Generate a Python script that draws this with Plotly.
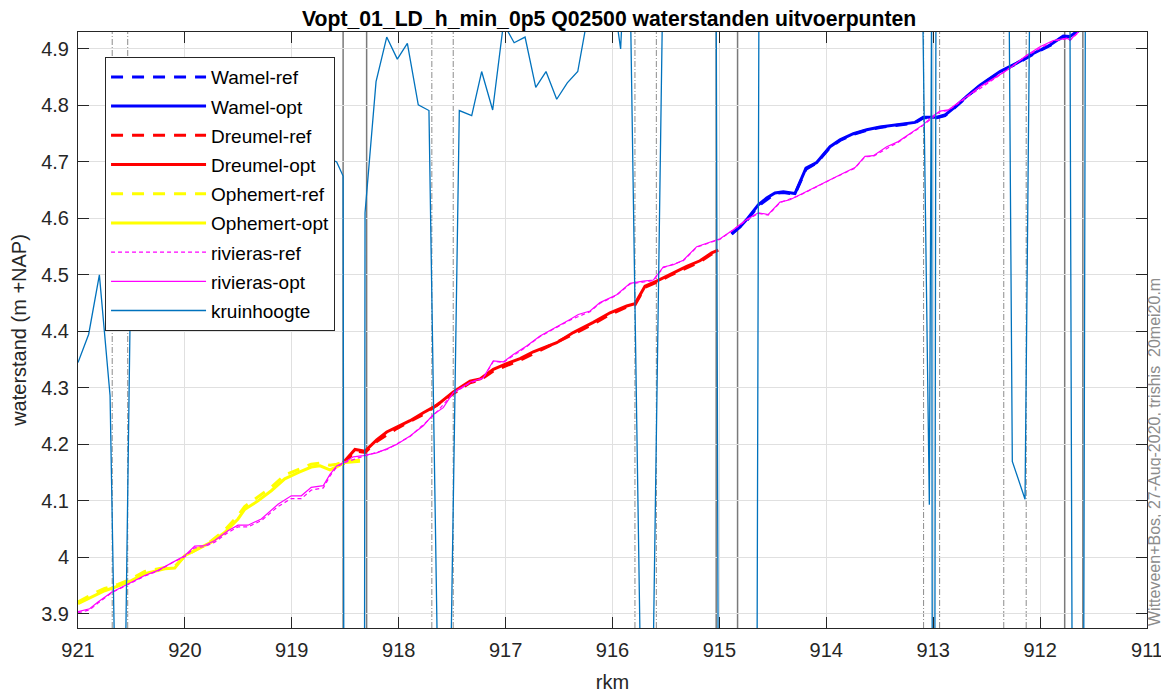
import plotly.graph_objects as go

# ---------------- data ----------------
wamel_opt_rkm = [914.885, 914.807, 914.745, 914.636, 914.558, 914.480, 914.402, 914.293, 914.190, 914.090,
                 913.965, 913.872, 913.747, 913.622, 913.498, 913.373, 913.280, 913.170, 913.093, 912.967,
                 912.890, 912.812, 912.687, 912.562, 912.375, 912.219, 912.064, 911.907, 911.783, 911.720,
                 911.627, 911.533]
wamel_opt_val = [4.573, 4.585, 4.598, 4.624, 4.636, 4.645, 4.647, 4.644, 4.689, 4.699,
                 4.727, 4.739, 4.750, 4.757, 4.762, 4.765, 4.767, 4.770, 4.779, 4.779,
                 4.783, 4.795, 4.816, 4.836, 4.860, 4.875, 4.892, 4.907, 4.923, 4.922,
                 4.935, 4.950]
wamel_ref_rkm = [914.885, 914.745, 914.636, 914.480, 914.402, 914.293, 914.190, 914.090, 913.965, 913.872,
                 913.747, 913.622, 913.498, 913.280, 913.170, 913.093, 912.967, 912.890, 912.812, 912.687,
                 912.562, 912.375, 912.219, 912.064, 911.907, 911.783, 911.720, 911.627, 911.533]
wamel_ref_val = [4.572, 4.596, 4.622, 4.644, 4.646, 4.643, 4.687, 4.698, 4.726, 4.738,
                 4.749, 4.756, 4.761, 4.766, 4.769, 4.778, 4.778, 4.782, 4.794, 4.815,
                 4.835, 4.859, 4.874, 4.891, 4.906, 4.922, 4.921, 4.934, 4.950]

dreumel_opt_rkm = [918.518, 918.486, 918.409, 918.315, 918.206, 918.112, 918.019, 917.894, 917.770, 917.645,
                   917.489, 917.333, 917.239, 917.115, 916.990, 916.865, 916.741, 916.678, 916.522, 916.367,
                   916.180, 916.023, 915.867, 915.790, 915.696, 915.587, 915.462, 915.306, 915.182, 915.072,
                   915.010]
dreumel_opt_val = [4.168, 4.175, 4.191, 4.188, 4.208, 4.222, 4.230, 4.242, 4.256, 4.269,
                   4.293, 4.312, 4.316, 4.333, 4.343, 4.352, 4.364, 4.369, 4.380, 4.398,
                   4.416, 4.433, 4.445, 4.449, 4.480, 4.489, 4.501, 4.515, 4.525, 4.539,
                   4.544]
dreumel_ref_rkm = [918.518, 918.409, 918.315, 918.206, 918.019, 917.770, 917.489, 917.333, 917.239, 917.115,
                   916.865, 916.678, 916.367, 916.180, 916.023, 915.867, 915.790, 915.696, 915.587, 915.462,
                   915.306, 915.182, 915.072, 915.010]
dreumel_ref_val = [4.166, 4.188, 4.186, 4.205, 4.228, 4.253, 4.290, 4.309, 4.314, 4.330,
                   4.349, 4.366, 4.395, 4.413, 4.430, 4.443, 4.447, 4.478, 4.487, 4.499,
                   4.513, 4.523, 4.537, 4.542]

ophemert_opt_rkm = [921.000, 920.876, 920.750, 920.626, 920.501, 920.376, 920.189, 920.095, 920.002, 919.877,
                    919.753, 919.628, 919.503, 919.441, 919.316, 919.192, 919.066, 918.942, 918.818, 918.736,
                    918.643, 918.580, 918.502, 918.362]
ophemert_opt_val = [3.918, 3.930, 3.941, 3.949, 3.959, 3.971, 3.980, 3.981, 4.003, 4.015,
                    4.027, 4.044, 4.068, 4.085, 4.100, 4.118, 4.139, 4.150, 4.160, 4.162,
                    4.155, 4.160, 4.168, 4.170]
ophemert_ref_rkm = [921.000, 920.876, 920.750, 920.626, 920.501, 920.376, 920.189, 920.095, 920.002, 919.877,
                    919.753, 919.628, 919.503, 919.441, 919.316, 919.192, 919.066, 918.942, 918.818, 918.736,
                    918.643, 918.580, 918.502, 918.362]
ophemert_ref_val = [3.921, 3.934, 3.945, 3.952, 3.962, 3.975, 3.982, 3.984, 4.002, 4.016,
                    4.029, 4.048, 4.074, 4.090, 4.107, 4.124, 4.146, 4.156, 4.165, 4.167,
                    4.163, 4.165, 4.170, 4.172]

rivier_opt_rkm = [921.000, 920.891, 920.813, 920.689, 920.532, 920.376, 920.252, 920.095, 920.002, 919.908,
                  919.815, 919.721, 919.597, 919.503, 919.410, 919.285, 919.129, 919.005, 918.911, 918.818,
                  918.705, 918.643, 918.580, 918.502, 918.425, 918.331, 918.206, 918.112, 918.019, 917.894,
                  917.770, 917.676, 917.583, 917.489, 917.333, 917.209, 917.115, 917.022, 916.928, 916.803,
                  916.678, 916.398, 916.320, 916.210, 916.117, 915.961, 915.836, 915.712, 915.618, 915.525,
                  915.431, 915.338, 915.212, 915.057, 914.994, 914.870, 914.745, 914.636, 914.543, 914.433,
                  914.340, 914.246, 914.090, 913.935, 913.809, 913.731, 913.638, 913.560, 913.435, 913.327,
                  913.248, 913.154, 913.093, 912.999, 912.936, 912.859, 912.749, 912.562, 912.406, 912.282,
                  912.125, 912.001, 911.877, 911.751, 911.720, 911.643, 911.533]
rivier_opt_val = [3.904, 3.909, 3.921, 3.938, 3.953, 3.968, 3.977, 3.994, 4.003, 4.020,
                  4.021, 4.030, 4.047, 4.057, 4.057, 4.068, 4.094, 4.109, 4.109, 4.124,
                  4.127, 4.147, 4.162, 4.169, 4.178, 4.180, 4.185, 4.192, 4.200, 4.215,
                  4.233, 4.253, 4.265, 4.292, 4.310, 4.318, 4.348, 4.346, 4.359, 4.374,
                  4.392, 4.421, 4.430, 4.436, 4.451, 4.465, 4.485, 4.489, 4.491, 4.514,
                  4.518, 4.526, 4.550, 4.560, 4.564, 4.580, 4.598, 4.610, 4.607, 4.629,
                  4.633, 4.642, 4.657, 4.672, 4.683, 4.690, 4.710, 4.711, 4.727, 4.736,
                  4.746, 4.757, 4.766, 4.782, 4.790, 4.792, 4.807, 4.833, 4.851, 4.866,
                  4.889, 4.904, 4.915, 4.919, 4.916, 4.930, 4.950]
rivier_ref_rkm = [921.000, 920.891, 920.813, 920.689, 920.532, 920.376, 920.252, 920.095, 920.002, 919.908,
                  919.815, 919.721, 919.597, 919.503, 919.410, 919.285, 919.129, 919.005, 918.911, 918.818,
                  918.705, 918.643, 918.580, 918.502, 918.331, 918.112, 917.894, 917.676, 917.489, 917.333,
                  917.209, 917.115, 917.022, 916.803, 916.678, 916.398, 916.210, 916.117, 915.961, 915.836,
                  915.618, 915.525, 915.338, 915.212, 914.994, 914.745, 914.636, 914.543, 914.433, 914.246,
                  913.935, 913.731, 913.638, 913.560, 913.327, 913.093, 912.936, 912.859, 912.749, 912.406,
                  912.125, 911.877, 911.751, 911.720, 911.643, 911.533]
rivier_ref_val = [3.902, 3.907, 3.919, 3.937, 3.952, 3.967, 3.976, 3.993, 4.001, 4.017,
                  4.019, 4.027, 4.044, 4.054, 4.054, 4.065, 4.090, 4.104, 4.104, 4.119,
                  4.123, 4.144, 4.160, 4.168, 4.179, 4.191, 4.214, 4.251, 4.290, 4.309,
                  4.317, 4.347, 4.345, 4.373, 4.391, 4.420, 4.435, 4.450, 4.464, 4.484,
                  4.490, 4.513, 4.525, 4.549, 4.563, 4.597, 4.609, 4.606, 4.628, 4.641,
                  4.671, 4.689, 4.709, 4.710, 4.735, 4.765, 4.789, 4.791, 4.806, 4.850,
                  4.888, 4.914, 4.918, 4.915, 4.929, 4.950]

kruin_rkm = [921.000, 920.900, 920.800, 920.700, 920.600, 920.500, 920.400, 920.300, 920.200, 920.100,
             920.000, 919.900, 919.800, 919.700, 919.600, 919.500, 919.400, 919.300, 919.200, 919.100,
             919.000, 918.900, 918.800, 918.700, 918.580, 918.520, 918.500, 918.330, 918.315, 918.212,
             918.112, 918.013, 917.919, 917.817, 917.717, 917.620, 917.520, 917.433, 917.317, 917.224,
             917.121, 917.020, 916.920, 916.818, 916.718, 916.622, 916.522, 916.423, 916.325, 916.230,
             916.130, 916.020, 915.924, 915.850, 915.730, 915.640, 915.500, 915.400, 915.300, 915.200,
             915.100, 915.030, 915.010, 914.900, 914.800, 914.660, 914.620, 914.500, 914.300, 914.100,
             913.900, 913.700, 913.500, 913.300, 913.100, 913.036, 913.015, 913.000, 912.970, 912.900,
             912.700, 912.500, 912.300, 912.260, 912.141, 912.080, 911.900, 911.730, 911.690, 911.600,
             911.570, 911.300, 911.000]
kruin_val = [4.345, 4.395, 4.500, 4.286, 3.200, 4.600, 4.720, 4.800, 4.760, 4.840,
             4.860, 4.810, 4.780, 4.850, 4.820, 4.790, 4.870, 4.830, 4.800, 4.760,
             4.810, 4.750, 4.720, 4.710, 4.700, 4.675, 2.000, 2.000, 4.610, 4.842,
             4.921, 4.882, 4.910, 4.801, 4.791, 3.610, 3.720, 4.791, 4.782, 4.860,
             4.792, 4.945, 4.911, 4.921, 4.832, 4.860, 4.811, 4.840, 4.860, 4.960,
             5.020, 5.030, 4.900, 5.200, 3.700, 3.550, 5.400, 5.500, 5.400, 5.500,
             5.400, 4.990, 3.700, 2.000, 2.000, 3.000, 5.670, 5.700, 5.600, 5.700,
             5.600, 5.700, 5.600, 5.600, 5.000, 4.093, 4.990, 2.000, 5.500, 5.600,
             5.600, 5.600, 5.260, 4.170, 4.103, 5.330, 5.600, 5.500, 3.200, 3.200,
             5.500, 5.600, 5.600]

vline_dashdot_rkm = [920.68, 920.535, 917.69, 917.49, 915.79, 915.59, 913.09, 912.94, 912.34, 912.13]
vline_solid_rkm = [918.52, 918.30, 915.03, 914.83, 911.77, 911.60]

x_ticks = [921, 920, 919, 918, 917, 916, 915, 914, 913, 912, 911]
y_ticks = [3.9, 4.0, 4.1, 4.2, 4.3, 4.4, 4.5, 4.6, 4.7, 4.8, 4.9]
y_tick_labels = ["3.9", "4", "4.1", "4.2", "4.3", "4.4", "4.5", "4.6", "4.7", "4.8", "4.9"]

title_text = "Vopt_01_LD_h_min_0p5 Q02500 waterstanden uitvoerpunten"
side_text = "Witteveen+Bos, 27-Aug-2020, trishis_20mei20.m"

# ---------------- figure ----------------
FONT = "Liberation Sans, Arial, sans-serif"
fig = go.Figure()

shapes = []
for v in vline_dashdot_rkm:
    shapes.append(dict(type="line", xref="x", yref="paper", x0=v, x1=v, y0=0, y1=1,
                       line=dict(color="#8c8c8c", width=1, dash="6px,2px,1px,2px"), layer="below"))
for v in vline_solid_rkm:
    shapes.append(dict(type="line", xref="x", yref="paper", x0=v, x1=v, y0=0, y1=1,
                       line=dict(color="#7a7a7a", width=1.5), layer="below"))

series = [
    ("Wamel-ref", wamel_ref_rkm, wamel_ref_val, "#0000FF", 3, "12px,9px"),
    ("Wamel-opt", wamel_opt_rkm, wamel_opt_val, "#0000FF", 3, "solid"),
    ("Dreumel-ref", dreumel_ref_rkm, dreumel_ref_val, "#FF0000", 3, "12px,9px"),
    ("Dreumel-opt", dreumel_opt_rkm, dreumel_opt_val, "#FF0000", 3, "solid"),
    ("Ophemert-ref", ophemert_ref_rkm, ophemert_ref_val, "#FFFF00", 3, "12px,9px"),
    ("Ophemert-opt", ophemert_opt_rkm, ophemert_opt_val, "#FFFF00", 3, "solid"),
    ("rivieras-ref", rivier_ref_rkm, rivier_ref_val, "#FF00FF", 1.2, "4px,3px"),
    ("rivieras-opt", rivier_opt_rkm, rivier_opt_val, "#FF00FF", 1.2, "solid"),
    ("kruinhoogte", kruin_rkm, kruin_val, "#0072BD", 1.3, "solid"),
]
for name, xs, ys, col, w, dash in series:
    fig.add_trace(go.Scatter(x=xs, y=ys, mode="lines", name=name, legendgroup=name,
                             line=dict(color=col, width=w, dash=dash)))

axis_common = dict(
    showline=True, linecolor="#262626", linewidth=1, mirror="ticks",
    ticks="inside", ticklen=11, tickcolor="#262626", tickwidth=1,
    showgrid=True, gridcolor="#e0e0e0", gridwidth=1, zeroline=False,
    tickfont=dict(family=FONT, size=20, color="#262626"),
    ticklabelstandoff=4,
)
fig.update_xaxes(range=[921, 911], tickvals=x_ticks, ticktext=[str(t) for t in x_ticks],
                 title=dict(text="rkm", font=dict(family=FONT, size=20, color="#262626"), standoff=14),
                 **axis_common)
fig.update_yaxes(range=[3.875, 4.93], tickvals=y_ticks, ticktext=y_tick_labels,
                 title=dict(text="waterstand (m +NAP)", font=dict(family=FONT, size=20, color="#262626"), standoff=9),
                 **axis_common)

fig.update_layout(
    width=1161, height=689,
    margin=dict(l=70, r=22, t=24, b=69, autoexpand=False),
    paper_bgcolor="white", plot_bgcolor="white",
    title=dict(text="<b>" + title_text + "</b>", x=0.5178, xanchor="center",
               yref="container", y=0.984, yanchor="middle",
               font=dict(family=FONT, size=21.2, color="black")),
    showlegend=True,
    legend=dict(x=0.0253, y=0.958, xanchor="left", yanchor="top",
                bgcolor="white", bordercolor="#262626", borderwidth=1,
                font=dict(family=FONT, size=19, color="black"),
                itemwidth=95, tracegroupgap=1.5, traceorder="grouped"),
    shapes=shapes,
    annotations=[dict(text=side_text, xref="paper", yref="paper", x=1.0, y=0.0,
                      xanchor="left", yanchor="bottom", xshift=-3, textangle=-90, showarrow=False,
                      font=dict(family=FONT, size=16, color="#8c8c8c"))],
)

fig.write_html("out.html")
